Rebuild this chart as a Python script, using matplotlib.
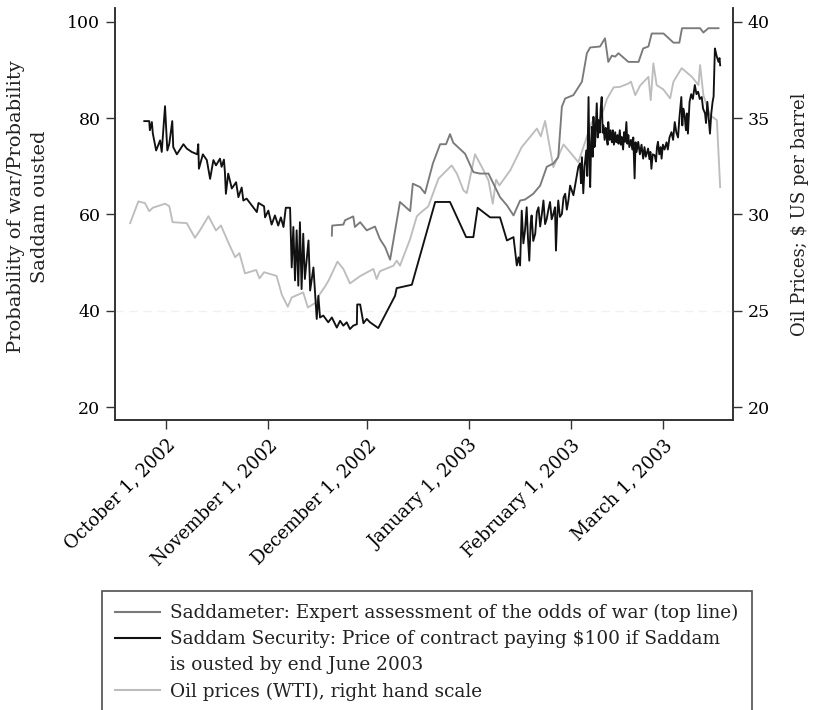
import numpy as np
import pandas as pd
import matplotlib
matplotlib.use("Agg")
import matplotlib.pyplot as plt
from matplotlib.lines import Line2D

plt.rcParams['font.family'] = ['DejaVu Serif']
plt.rcParams['text.color'] = '#222222'
plt.rcParams['axes.labelcolor'] = '#222222'

BASE = pd.Timestamp('2002-10-01')  # day 0 of the day counts below

# Saddam Security (left scale), days since 1 Oct 2002
sec_days = [-6.6, -5.1, -4.9, -4.3, -4.0, -3.0, -1.8, -1.3, -0.3, 0.4, 1.0, 1.9, 2.2, 3.3, 5.3, 6.3,
            7.8, 9.5, 9.8, 10.0, 11.2, 12.4, 13.4, 14.4, 15.2, 16.4, 16.9, 17.6, 17.9, 18.2, 18.9,
            20.0, 21.3, 22.0, 23.0, 23.5, 24.5, 27.6, 28.1, 29.8, 30.1, 31.1, 32.1, 33.1, 34.1, 34.9,
            35.7, 36.4, 37.7, 38.2, 38.7, 39.2, 39.7, 40.2, 40.7, 41.2, 41.7, 42.2, 43.3, 43.8, 44.8,
            45.8, 46.3, 46.8, 47.8, 49.3, 50.4, 51.9, 52.9, 53.9, 54.9, 55.9, 56.9, 58.0, 58.1, 59.0,
            60.0, 61.0, 62.0, 64.5, 69.6, 70.1, 74.7, 81.8, 86.3, 91.2, 93.4, 94.7, 98.5, 101.5,
            103.6, 105.6, 106.6, 107.1, 107.6, 108.1, 108.6, 109.1, 109.6, 110.0, 110.4, 110.8,
            111.1, 111.6, 112.2, 112.7, 113.2, 113.7, 114.2, 114.7, 115.2, 115.7, 116.2, 116.7,
            117.2, 117.7, 118.2, 118.5, 118.9, 119.2, 119.7, 120.3, 120.8, 121.3, 121.8, 122.3,
            122.8, 123.3, 123.8, 124.3, 124.8, 125.3, 125.8, 126.1, 126.4, 126.8, 127.2, 127.7,
            128.0, 128.4, 128.7, 128.9, 129.2, 129.4, 129.7, 129.9, 130.2, 130.4, 130.7, 130.9,
            131.2, 131.4, 131.8, 132.1, 132.4, 132.7, 132.9, 133.3, 133.6, 133.9, 134.2, 134.4,
            134.8, 135.1, 135.5, 135.8, 136.1, 136.5, 136.8, 137.2, 137.5, 137.9, 138.2, 138.5,
            138.9, 139.2, 139.5, 139.9, 140.2, 140.5, 140.8, 141.3, 141.7, 142.0, 142.4, 142.7,
            143.0, 143.5, 144.0, 144.5, 145.0, 145.4, 145.8, 146.5, 146.9, 147.2, 147.5, 147.9,
            148.5, 148.9, 149.2, 149.5, 149.9, 150.3, 150.6, 151.0, 151.5, 152.1, 152.5, 153.0,
            153.6, 154.1, 154.6, 155.1, 155.6, 156.0, 156.6, 156.9, 157.2, 157.6, 158.0, 158.3,
            158.6, 159.1, 159.6, 160.1, 160.7, 161.2, 161.7, 162.2, 162.8, 163.2, 163.8, 164.1,
            164.5, 164.9, 165.3, 165.7, 166.1, 166.4, 166.8, 167.3, 167.9, 168.2, 168.4]
sec_vals = [79.4, 79.4, 77.5, 79.2, 76.8, 73.3, 75.4, 73.0, 82.5, 73.3, 74.7, 79.4, 74.0, 72.5, 74.6, 73.7,
            73.0, 72.5, 74.6, 69.5, 72.5, 71.3, 67.4, 71.3, 70.2, 71.6, 69.9, 71.4, 68.8, 64.3, 68.5,
            65.4, 66.7, 63.6, 65.6, 62.9, 63.3, 60.5, 62.4, 61.7, 59.4, 60.8, 57.9, 59.8, 57.7, 59.4,
            57.4, 61.4, 61.4, 49.0, 57.4, 46.3, 56.7, 45.2, 58.4, 44.5, 56.0, 46.6, 54.6, 44.2, 49.0,
            38.3, 43.1, 38.6, 39.0, 37.6, 38.6, 36.5, 37.9, 36.9, 37.6, 36.2, 36.9, 37.2, 41.3, 41.3,
            37.4, 38.3, 37.6, 36.4, 43.1, 44.7, 45.4, 62.6, 62.6, 55.3, 55.3, 61.4, 59.4, 59.4,
            54.6, 55.3, 49.4, 51.1, 49.4, 60.8, 54.0, 56.7, 61.5, 55.0, 50.4, 58.0,
            59.8, 54.5, 56.0, 60.5, 61.5, 57.5, 60.0, 62.9, 58.0, 59.1, 61.0, 62.6,
            59.0, 60.1, 61.5, 52.5, 60.0, 62.9, 59.5, 60.1, 63.5, 64.3, 61.0, 63.0,
            66.0, 65.0, 64.0, 66.0, 68.0, 69.9, 70.6, 66.5, 71.9, 64.4, 70.0, 73.3,
            68.0, 84.4, 70.0, 65.7, 75.0, 78.2, 72.0, 80.3, 74.0, 74.8, 80.0, 83.1,
            76.0, 79.6, 77.0, 82.0, 84.4, 77.0, 78.5, 75.5, 78.0, 76.1, 74.5, 79.2,
            75.5, 77.5, 75.0, 77.5, 74.5, 77.1, 75.0, 76.5, 74.7, 77.5, 74.5, 76.1,
            73.5, 77.1, 75.1, 79.2, 74.7, 76.5, 74.0, 75.5, 73.5, 76.0, 67.5, 75.0,
            73.0, 75.1, 72.5, 74.5, 71.6, 74.0, 72.0, 73.7, 71.5, 73.0, 69.5, 72.5,
            72.3, 71.0, 74.0, 75.1, 72.5, 74.0, 71.6, 74.5, 73.5, 75.0, 73.5, 76.0,
            77.1, 75.5, 79.2, 77.0, 76.0, 80.0, 84.4, 78.5, 82.0, 80.6, 77.5, 81.0,
            76.8, 83.4, 85.0, 84.0, 86.9, 85.0, 85.5, 84.0, 84.4, 82.0, 81.0, 79.0,
            83.4, 80.0, 76.8, 81.0, 83.4, 84.5, 94.5, 93.0, 91.7, 92.5, 91.0]

# Saddameter (left scale)
sm_days = [50.4, 50.5, 53.9, 54.4, 56.9, 57.4, 59.0, 61.0, 63.5, 65.0, 66.6, 68.1, 71.1, 74.2, 75.0,
           77.2, 78.7, 81.1, 83.3, 85.1, 86.3, 87.3, 90.9, 93.4, 95.4, 98.0, 100.0, 101.5, 103.6,
           105.6, 107.6, 109.1, 111.6, 113.7, 115.7, 117.7, 119.2, 120.3, 121.3, 123.8, 126.4,
           127.9, 128.9, 131.9, 133.4, 134.4, 135.5, 136.5, 137.5, 140.5, 143.6, 145.0, 146.6,
           147.6, 151.2, 154.2, 156.0, 156.8, 162.3, 163.3, 164.8, 167.9]
sm_vals = [55.6, 57.7, 57.9, 58.8, 59.6, 57.4, 58.4, 56.7, 57.5, 54.9, 53.2, 50.6, 62.6, 60.7, 66.4,
           65.7, 64.4, 70.6, 74.6, 74.6, 76.7, 74.9, 72.6, 68.8, 68.5, 68.5, 65.7, 63.6, 61.9,
           59.8, 62.9, 63.1, 64.3, 66.0, 69.9, 70.6, 71.9, 82.4, 84.1, 84.8, 87.6,
           93.5, 94.7, 94.9, 96.6, 91.7, 93.0, 92.8, 93.5, 91.7, 91.7, 94.5, 94.9,
           97.6, 97.6, 95.7, 95.7, 98.7, 98.7, 97.8, 98.7, 98.7]

# Oil prices, WTI (right scale, $ per barrel)
oil_days = [-10.9, -8.4, -6.4, -5.1, -4.0, -0.3, 1.0, 2.0, 6.3, 8.8, 10.3, 12.9, 15.2, 16.7, 18.9,
            21.0, 22.3, 24.0, 27.4, 28.4, 29.8, 33.6, 35.2, 37.0, 38.2, 41.7, 43.1, 45.6, 46.6,
            48.3, 49.5, 52.1, 53.9, 55.9, 59.0, 63.0, 64.0, 65.0, 69.1, 70.1, 71.1, 74.2, 76.2,
            77.2, 79.7, 82.8, 86.8, 88.4, 90.4, 91.4, 93.9, 96.0, 98.0, 99.3, 100.3, 101.3, 104.6,
            108.1, 112.7, 113.9, 115.2, 117.7, 120.8, 125.3, 129.4, 130.9, 132.9, 134.0, 136.0,
            138.0, 140.5, 141.3, 142.6, 144.1, 146.6, 147.3, 148.1, 149.1, 151.1, 153.2, 154.2,
            156.7, 159.8, 161.8, 162.3, 163.3, 165.3, 167.4, 168.4]
oil_vals = [29.55, 30.68, 30.59, 30.17, 30.35, 30.56, 30.43, 29.6, 29.55, 28.79, 29.17, 29.91, 29.17,
            29.43, 28.56, 27.78, 27.99, 26.94, 27.12, 26.68, 27.0, 26.81, 25.83, 25.21, 25.69, 25.95,
            25.17, 25.43, 25.83, 26.25, 26.6, 27.55, 27.17, 26.42, 26.8, 27.17, 26.65, 27.05, 27.34,
            27.6, 27.34, 28.73, 29.9, 30.07, 30.42, 31.86, 32.55, 32.12, 31.25, 31.11, 33.13, 32.46,
            31.77, 30.56, 31.81, 31.51, 32.29, 33.5, 34.46, 34.06, 34.86, 32.46, 33.64, 32.72, 34.8,
            34.6, 35.4, 36.0, 36.6, 36.63, 36.8, 36.9, 36.2, 36.7, 37.15, 35.94, 37.85, 36.72, 36.5,
            36.03, 36.9, 37.6, 37.15, 36.72, 37.76, 36.2, 35.16, 34.9, 31.42]

tick_dates = ['2002-10-01', '2002-11-01', '2002-12-01', '2003-01-01', '2003-02-01', '2003-03-01']
tick_labels = ['October 1, 2002', 'November 1, 2002', 'December 1, 2002',
               'January 1, 2003', 'February 1, 2003', 'March 1, 2003']
left_ticks = [20, 40, 60, 80, 100]
right_ticks = [20, 25, 30, 35, 40]

labels = ['Saddameter: Expert assessment of the odds of war (top line)',
          'Saddam Security: Price of contract paying \\$100 if Saddam',
          'is ousted by end June 2003',
          'Oil prices (WTI), right hand scale']

C_SM = '#7a7a7a'
C_SEC = '#111111'
C_OIL = '#bdbdbd'


def to_dates(days):
    return BASE + pd.to_timedelta(np.array(days), unit='D')


W, H = 816, 710
fig = plt.figure(figsize=(W / 100, H / 100), dpi=100)
L, R, T, B = 115, 733, 8, 420
ax = fig.add_axes([L / W, 1 - B / H, (R - L) / W, (B - T) / H])
ax2 = ax.twinx()

lw = 1.35
ax2.plot(to_dates(oil_days), oil_vals, color=C_OIL, lw=lw, zorder=1)
ax.plot(to_dates(sm_days), sm_vals, color=C_SM, lw=lw, zorder=2)
ax.plot(to_dates(sec_days), sec_vals, color=C_SEC, lw=lw, zorder=3)
ax.set_zorder(ax2.get_zorder() + 1)
ax.patch.set_visible(False)

ylo, yhi = 17.3, 102.9
ax.set_ylim(ylo, yhi)
ax2.set_ylim(20 + (ylo - 20) / 4, 20 + (yhi - 20) / 4)
ax.axhline(40, color='#f1f1f1', lw=1, ls=(0, (6, 4)), zorder=0)

ax.set_xlim(BASE - pd.Timedelta(days=15.5), BASE + pd.Timedelta(days=172.3))
ax.set_xticks(pd.to_datetime(tick_dates))
ax.set_xticklabels(tick_labels, rotation=45, ha='right', rotation_mode='anchor', fontsize=13)
ax.set_yticks(left_ticks)
ax.set_yticklabels([str(v) for v in left_ticks], fontsize=12.5)
ax2.set_yticks(right_ticks)
ax2.set_yticklabels([str(v) for v in right_ticks], fontsize=12.5)

for a in (ax, ax2):
    a.spines['top'].set_visible(False)
    for s in a.spines.values():
        s.set_color('#333333')
        s.set_linewidth(1.2)
ax.tick_params(axis='y', direction='out', length=6.5, width=1, color='#333333', pad=4)
ax.tick_params(axis='x', direction='out', length=6.5, width=1, color='#333333', pad=5)
ax2.tick_params(axis='y', direction='out', length=6.5, width=1, color='#333333', pad=4)

fig.text(28 / W, 1 - 207 / H, 'Probability of war/Probability\nSaddam ousted', rotation=90,
         ha='center', va='center', multialignment='center', fontsize=14, linespacing=1.4)
fig.text(800 / W, 1 - 214 / H, 'Oil Prices; \\$ US per barrel', rotation=90,
         ha='center', va='center', fontsize=13)

handles = [Line2D([], [], color=C_SM, lw=1.5),
           Line2D([], [], color=C_SEC, lw=1.5),
           Line2D([], [], color='none', lw=1.5),
           Line2D([], [], color=C_OIL, lw=1.5)]
leg = fig.legend(handles, labels, loc='upper left', bbox_to_anchor=(102 / W, 1 - 591 / H),
                 borderaxespad=0, fontsize=13.3, frameon=True, fancybox=False,
                 handlelength=2.45, handletextpad=0.55, labelspacing=0.44, borderpad=0.7)
leg.get_frame().set_edgecolor('#222222')
leg.get_frame().set_linewidth(1.2)

fig.savefig('out.png', dpi=100)
